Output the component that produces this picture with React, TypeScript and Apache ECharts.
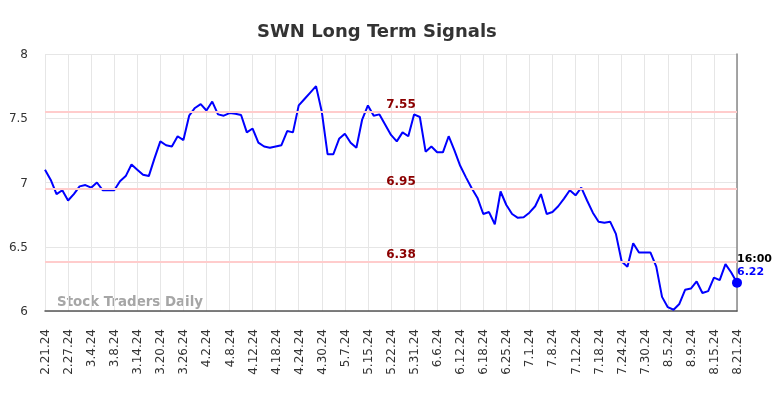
import React, { useEffect, useRef } from "react";
import * as echarts from "echarts";

const dates: string[] = [
  "2.21.24", "2.22.24", "2.23.24", "2.26.24",
  "2.27.24", "2.28.24", "2.29.24", "3.1.24",
  "3.4.24", "3.5.24", "3.6.24", "3.7.24",
  "3.8.24", "3.11.24", "3.12.24", "3.13.24",
  "3.14.24", "3.15.24", "3.18.24", "3.19.24",
  "3.20.24", "3.21.24", "3.22.24", "3.25.24",
  "3.26.24", "3.27.24", "3.28.24", "4.1.24",
  "4.2.24", "4.3.24", "4.4.24", "4.5.24",
  "4.8.24", "4.9.24", "4.10.24", "4.11.24",
  "4.12.24", "4.15.24", "4.16.24", "4.17.24",
  "4.18.24", "4.19.24", "4.22.24", "4.23.24",
  "4.24.24", "4.25.24", "4.26.24", "4.29.24",
  "4.30.24", "5.1.24", "5.2.24", "5.6.24",
  "5.7.24", "5.8.24", "5.10.24", "5.13.24",
  "5.15.24", "5.16.24", "5.17.24", "5.21.24",
  "5.22.24", "5.23.24", "5.28.24", "5.30.24",
  "5.31.24", "6.3.24", "6.4.24", "6.5.24",
  "6.6.24", "6.7.24", "6.10.24", "6.11.24",
  "6.12.24", "6.13.24", "6.14.24", "6.17.24",
  "6.18.24", "6.20.24", "6.21.24", "6.24.24",
  "6.25.24", "6.26.24", "6.27.24", "6.28.24",
  "7.1.24", "7.2.24", "7.3.24", "7.5.24",
  "7.8.24", "7.9.24", "7.10.24", "7.11.24",
  "7.12.24", "7.15.24", "7.16.24", "7.17.24",
  "7.18.24", "7.19.24", "7.22.24", "7.23.24",
  "7.24.24", "7.25.24", "7.26.24", "7.29.24",
  "7.30.24", "7.31.24", "8.1.24", "8.2.24",
  "8.5.24", "8.6.24", "8.7.24", "8.8.24",
  "8.9.24", "8.12.24", "8.13.24", "8.14.24",
  "8.15.24", "8.16.24", "8.19.24", "8.20.24",
  "8.21.24",
];

const prices: number[] = [
  7.10, 7.02, 6.91, 6.94, 6.86, 6.91, 6.97, 6.98, 6.96, 7.00,
  6.94, 6.94, 6.94, 7.01, 7.05, 7.14, 7.10, 7.06, 7.05, 7.19,
  7.32, 7.29, 7.28, 7.36, 7.33, 7.52, 7.58, 7.61, 7.56, 7.63,
  7.53, 7.52, 7.54, 7.535, 7.525, 7.39, 7.42, 7.31, 7.28, 7.27,
  7.28, 7.29, 7.40, 7.39, 7.60, 7.65, 7.70, 7.75, 7.55, 7.22,
  7.22, 7.34, 7.38, 7.31, 7.27, 7.49, 7.60, 7.52, 7.53, 7.45,
  7.37, 7.32, 7.39, 7.36, 7.53, 7.51, 7.24, 7.28, 7.235, 7.235,
  7.36, 7.25, 7.13, 7.04, 6.955, 6.88, 6.755, 6.77, 6.675, 6.93,
  6.825, 6.755, 6.725, 6.73, 6.765, 6.815, 6.91, 6.755, 6.77, 6.815,
  6.875, 6.94, 6.90, 6.96, 6.86, 6.765, 6.695, 6.687, 6.695, 6.60,
  6.385, 6.345, 6.527, 6.455, 6.455, 6.455, 6.345, 6.11, 6.03, 6.01,
  6.055, 6.165, 6.175, 6.23, 6.14, 6.155, 6.26, 6.24, 6.365, 6.30,
  6.22,
];

const signalLevels: number[] = [7.55, 6.95, 6.38];
const yMin = 6;
const yMax = 8;
const yStep = 0.5;
const lastTime = "16:00";
const titleText = "SWN Long Term Signals";
const watermarkText = "Stock Traders Daily";

export default function App() {
  const ref = useRef<HTMLDivElement>(null);
  useEffect(() => {
    document.body.style.margin = "0";
    const chart = echarts.init(ref.current as HTMLDivElement, null, { renderer: "svg" });
    const last = prices.length - 1;
    const font = "DejaVu Sans";
    chart.setOption({
      animation: false,
      title: {
        text: titleText,
        left: 252,
        top: 16,
        textStyle: { fontFamily: font, fontWeight: "bold", fontSize: 18, color: "#333" },
      },
      grid: { left: 45, right: 47, top: 54, bottom: 87 },
      xAxis: {
        type: "category",
        data: dates,
        boundaryGap: false,
        axisLine: { lineStyle: { color: "#555", width: 1.5 } },
        axisTick: { show: false },
        axisLabel: {
          interval: 3,
          rotate: 90,
          fontFamily: font,
          fontSize: 12,
          color: "#333",
          margin: 18,
        },
        splitLine: { show: true, interval: 3, lineStyle: { color: "#e6e6e6" } },
      },
      yAxis: [
        {
          type: "value",
          min: yMin,
          max: yMax,
          interval: yStep,
          axisLine: { show: false },
          axisTick: { show: false },
          axisLabel: { fontFamily: font, fontSize: 12, color: "#333", margin: 17 },
          splitLine: { lineStyle: { color: "#e6e6e6" } },
        },
        {
          type: "value",
          position: "right",
          min: yMin,
          max: yMax,
          interval: yStep,
          axisLine: { show: true, lineStyle: { color: "#888", width: 1.5 } },
          axisTick: { show: false },
          axisLabel: { show: false },
          splitLine: { show: false },
        },
      ],
      graphic: [
        {
          type: "text",
          left: 57,
          top: 295,
          style: {
            text: watermarkText,
            fontFamily: font,
            fontWeight: "bold",
            fontSize: 13.4,
            fill: "#a6a6a6",
          },
        },
      ],
      series: [
        {
          type: "line",
          data: prices,
          showSymbol: false,
          symbol: "none",
          lineStyle: { color: "#0000ff", width: 2 },
          itemStyle: { color: "#0000ff" },
          markLine: {
            symbol: "none",
            silent: true,
            lineStyle: { color: "#ffcccc", width: 2, type: "solid" },
            label: {
              position: "insideMiddleTop",
              distance: 2,
              padding: [0, 0, 0, 20],
              color: "#8b0000",
              fontWeight: "bold",
              fontSize: 12,
              fontFamily: font,
              formatter: (p: any) => Number(p.value).toFixed(2),
            },
            data: signalLevels.map((v) => ({ yAxis: v })),
          },
        },
        {
          type: "scatter",
          data: [[last, prices[last]]],
          symbol: "circle",
          symbolSize: 10,
          itemStyle: { color: "#0000ff", opacity: 1 },
          label: {
            show: true,
            position: [5, -26],
            align: "left",
            verticalAlign: "top",
            formatter: () => `{t|${lastTime}}\n{v|${prices[last].toFixed(2)}}`,
            rich: {
              t: { fontFamily: font, fontWeight: "bold", fontSize: 11, color: "#000", lineHeight: 13 },
              v: { fontFamily: font, fontWeight: "bold", fontSize: 11, color: "#0000ff", lineHeight: 13 },
            },
          },
        },
      ],
    });
    return () => chart.dispose();
  }, []);
  return (
    <div
      ref={ref}
      style={{ position: "fixed", left: 0, top: 0, width: 784, height: 398 }}
    />
  );
}
